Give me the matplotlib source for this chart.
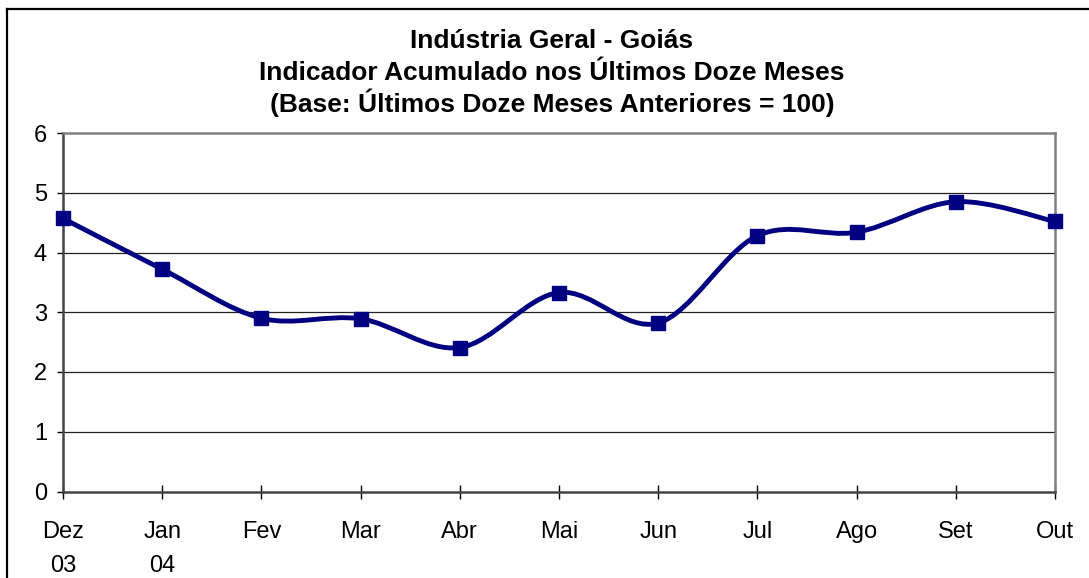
import matplotlib
matplotlib.use("Agg")
import matplotlib.pyplot as plt
from matplotlib.path import Path
from matplotlib.patches import PathPatch
import numpy as np

plt.rcParams['font.family'] = ['Liberation Sans', 'DejaVu Sans']

meses = ["Dez\n03", "Jan\n04", "Fev", "Mar", "Abr", "Mai", "Jun", "Jul", "Ago", "Set", "Out"]
valores = [4.57, 3.72, 2.90, 2.89, 2.41, 3.33, 2.82, 4.28, 4.34, 4.85, 4.52]
titulos = ["Indústria Geral - Goiás",
           "Indicador Acumulado nos Últimos Doze Meses",
           "(Base: Últimos Doze Meses Anteriores = 100)"]

W, H = 1089, 578
fig = plt.figure(figsize=(W/100, H/100), dpi=100)
ax = fig.add_axes([63/W, 1-491.5/H, (1055-63)/W, (491.5-133)/H])

# moldura do gráfico (cortada embaixo e à direita)
fig.add_artist(plt.Line2D([7/W, 7/W], [1-9/H, -0.1], transform=fig.transFigure, color='black', lw=1.6))
fig.add_artist(plt.Line2D([7/W, 1.1], [1-9/H, 1-9/H], transform=fig.transFigure, color='black', lw=1.6))

x = np.arange(len(valores))
y = np.array(valores)

# linha suavizada (bezier tipo Excel)
verts = [(x[0], y[0])]
codes = [Path.MOVETO]
n = len(x)
for i in range(n-1):
    p0 = np.array([x[max(i-1, 0)], y[max(i-1, 0)]])
    p1 = np.array([x[i], y[i]])
    p2 = np.array([x[i+1], y[i+1]])
    p3 = np.array([x[min(i+2, n-1)], y[min(i+2, n-1)]])
    c1 = p1 + (p2 - p0)/6
    c2 = p2 - (p3 - p1)/6
    verts += [tuple(c1), tuple(c2), tuple(p2)]
    codes += [Path.CURVE4]*3
ax.add_patch(PathPatch(Path(verts, codes), fill=False, edgecolor='#000080', lw=3.5, zorder=3, clip_on=False))
ax.plot(x, y, ls='none', marker='s', ms=10.5, color='#000080', zorder=4, clip_on=False)

ax.set_xlim(0, n-1)
ax.set_ylim(0, 6)
ax.set_yticks(range(0, 7))
ax.set_xticks(x)
ax.set_xticklabels(meses, fontsize=17, linespacing=1.7)
ax.tick_params(axis='y', labelsize=17, direction='out', length=4.5, width=1, pad=7)
ax.tick_params(axis='x', direction='inout', length=10, width=1, pad=16)

for v in range(1, 6):
    ax.axhline(v, color='#222222', lw=0.9, zorder=1)

ax.spines['left'].set_color('#444444')
ax.spines['bottom'].set_color('#444444')
ax.spines['left'].set_linewidth(1.8)
ax.spines['bottom'].set_linewidth(1.8)
ax.spines['top'].set_color('#808080')
ax.spines['right'].set_color('#808080')
ax.spines['top'].set_linewidth(1.8)
ax.spines['right'].set_linewidth(1.8)

for k, t in enumerate(titulos):
    fig.text(552/W, 1-(48+32*k)/H, t, ha='center', va='baseline', fontsize=19, fontweight='bold')

fig.savefig("out.png", dpi=100)
